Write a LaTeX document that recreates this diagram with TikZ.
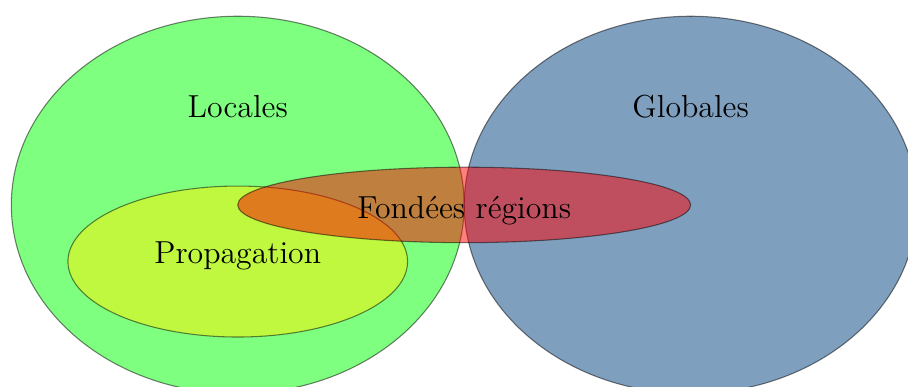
\documentclass[tikz,border=0pt]{standalone}
\usepackage{tikz}

\definecolor{globcol}{RGB}{0,64,128}

\begin{document}
\begin{tikzpicture}[font=\large]
\useasboundingbox (-3.15, -2.41) rectangle (8.88, 2.715);
\draw [fill=green, opacity=0.5] (0, 0) ellipse (3 and 2.5);
\draw [fill=globcol, opacity=0.5] (6, 0) ellipse (3 and 2.5);
\draw [fill=yellow, opacity=0.5] (0, -0.75) ellipse (2.25 and 1);
\draw [fill=red, opacity=0.5] (3, 0) ellipse (3 and 0.5);
\node (loc) at (0, 1.3) {Locales};
\node (glob) at (6, 1.3) {Globales};
\node (prop) at (0, -0.68) {Propagation};
\node (reg) at (3, -0.07) {Fondées régions};
\end{tikzpicture}
\end{document}
